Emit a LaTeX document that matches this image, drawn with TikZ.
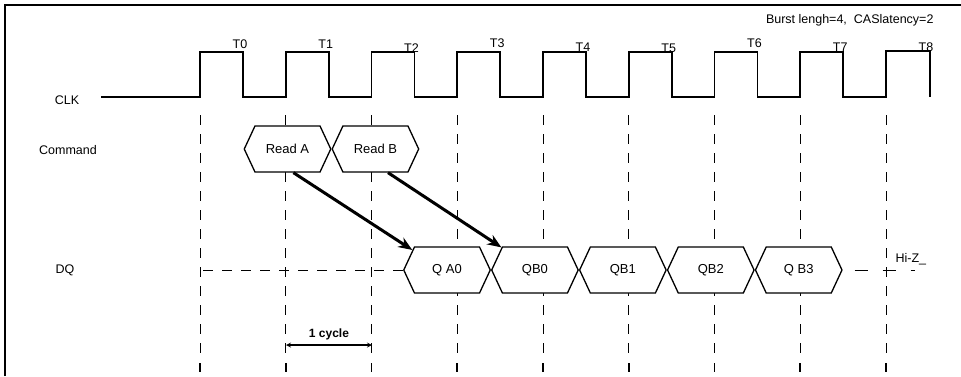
\documentclass[tikz,border=0pt]{standalone}
\usepackage{fontspec}
\setmainfont{Liberation Sans}
\usetikzlibrary{positioning,shapes.symbols,arrows.meta}

\tikzset{
  lbl/.style={font=\fontsize{12.5}{14}\selectfont},
  bus/.style={shape=signal, signal to=west and east, signal pointer angle=130,
    draw, fill=white, line width=1.3pt, minimum width=86.5pt, minimum height=46pt,
    inner sep=0pt, font=\fontsize{13}{15}\selectfont},
  guide/.style={line width=0.7pt, dash pattern=on 10pt off 9pt},
  clock/.style={line width=1.6pt, line join=miter},
  latency/.style={-{Stealth[length=14pt,width=11pt]}, line width=3pt}
}

\begin{document}
\begin{tikzpicture}[x=1pt,y=-1pt,>=stealth]
  \useasboundingbox (0,0) rectangle (961,376);
  % frame
  \draw[line width=2.5pt] (5,376) -- (5,5) -- (961,5);
  \node[lbl, anchor=east] (note) at (937,20) {Burst lengh=4,\ \ CASlatency=2};

  % signal names
  \node[lbl] (clk) at (67,100) {CLK};
  \node[lbl] (cmd) at (68,150) {Command};
  \node[lbl] (dq) at (65,270) {DQ};

  % clock edges
  \foreach \k in {0,...,8}
    \draw[guide] (200+85.75*\k,115) -- (200+85.75*\k,357);
  \foreach \k in {0,...,8}
    \draw[line width=1.8pt] (200+85.75*\k,363) -- (200+85.75*\k,372);
  \draw[clock] (101,97) -- (200,97)
    foreach \k in {0,...,7} { -- ++(0,-45) -- ++(43,0) -- ++(0,45) -- ++(42.75,0) }
    -- ++(0,-46) -- ++(44,0) -- ++(0,46);
  \foreach \k/\y in {0/44,1/44,2/48,3/43,4/47,5/48,6/43,7/47,8/47}
    \node[lbl] (t\k) at (240+85.75*\k,\y) {T\k};

  % command bus
  \node[bus] (reada) at (287.5,149) {Read A};
  \node[bus, right=0pt of reada] (readb) {Read B};

  % data bus
  \draw[guide] (203,270) -- (404,270);
  \node[bus] (qa0) at (447,270) {Q A0};
  \node[bus, right=0pt of qa0] (qb0) {QB0};
  \node[bus, right=0pt of qb0] (qb1) {QB1};
  \node[bus, right=0pt of qb1] (qb2) {QB2};
  \node[bus, right=0pt of qb2] (qb3) {Q B3};
  \draw[guide, dash pattern=on 13pt off 15pt] (qb3.east) ++(12,0) -- (915,270);
  \node[lbl, anchor=west] (hiz) at (892,259) {Hi-Z\_};

  % latency arrows
  \draw[latency] (reada.-76) -- (qa0.150);
  \draw[latency] (readb.-62) -- (qb0.146);

  % one cycle
  \coordinate (c0) at (286,345);
  \coordinate (c1) at (372,345);
  \draw[<->, line width=1.2pt] (c0) -- (c1)
    node[midway, above=1pt, font=\bfseries\fontsize{12}{14}\selectfont] {1 cycle};
\end{tikzpicture}
\end{document}
